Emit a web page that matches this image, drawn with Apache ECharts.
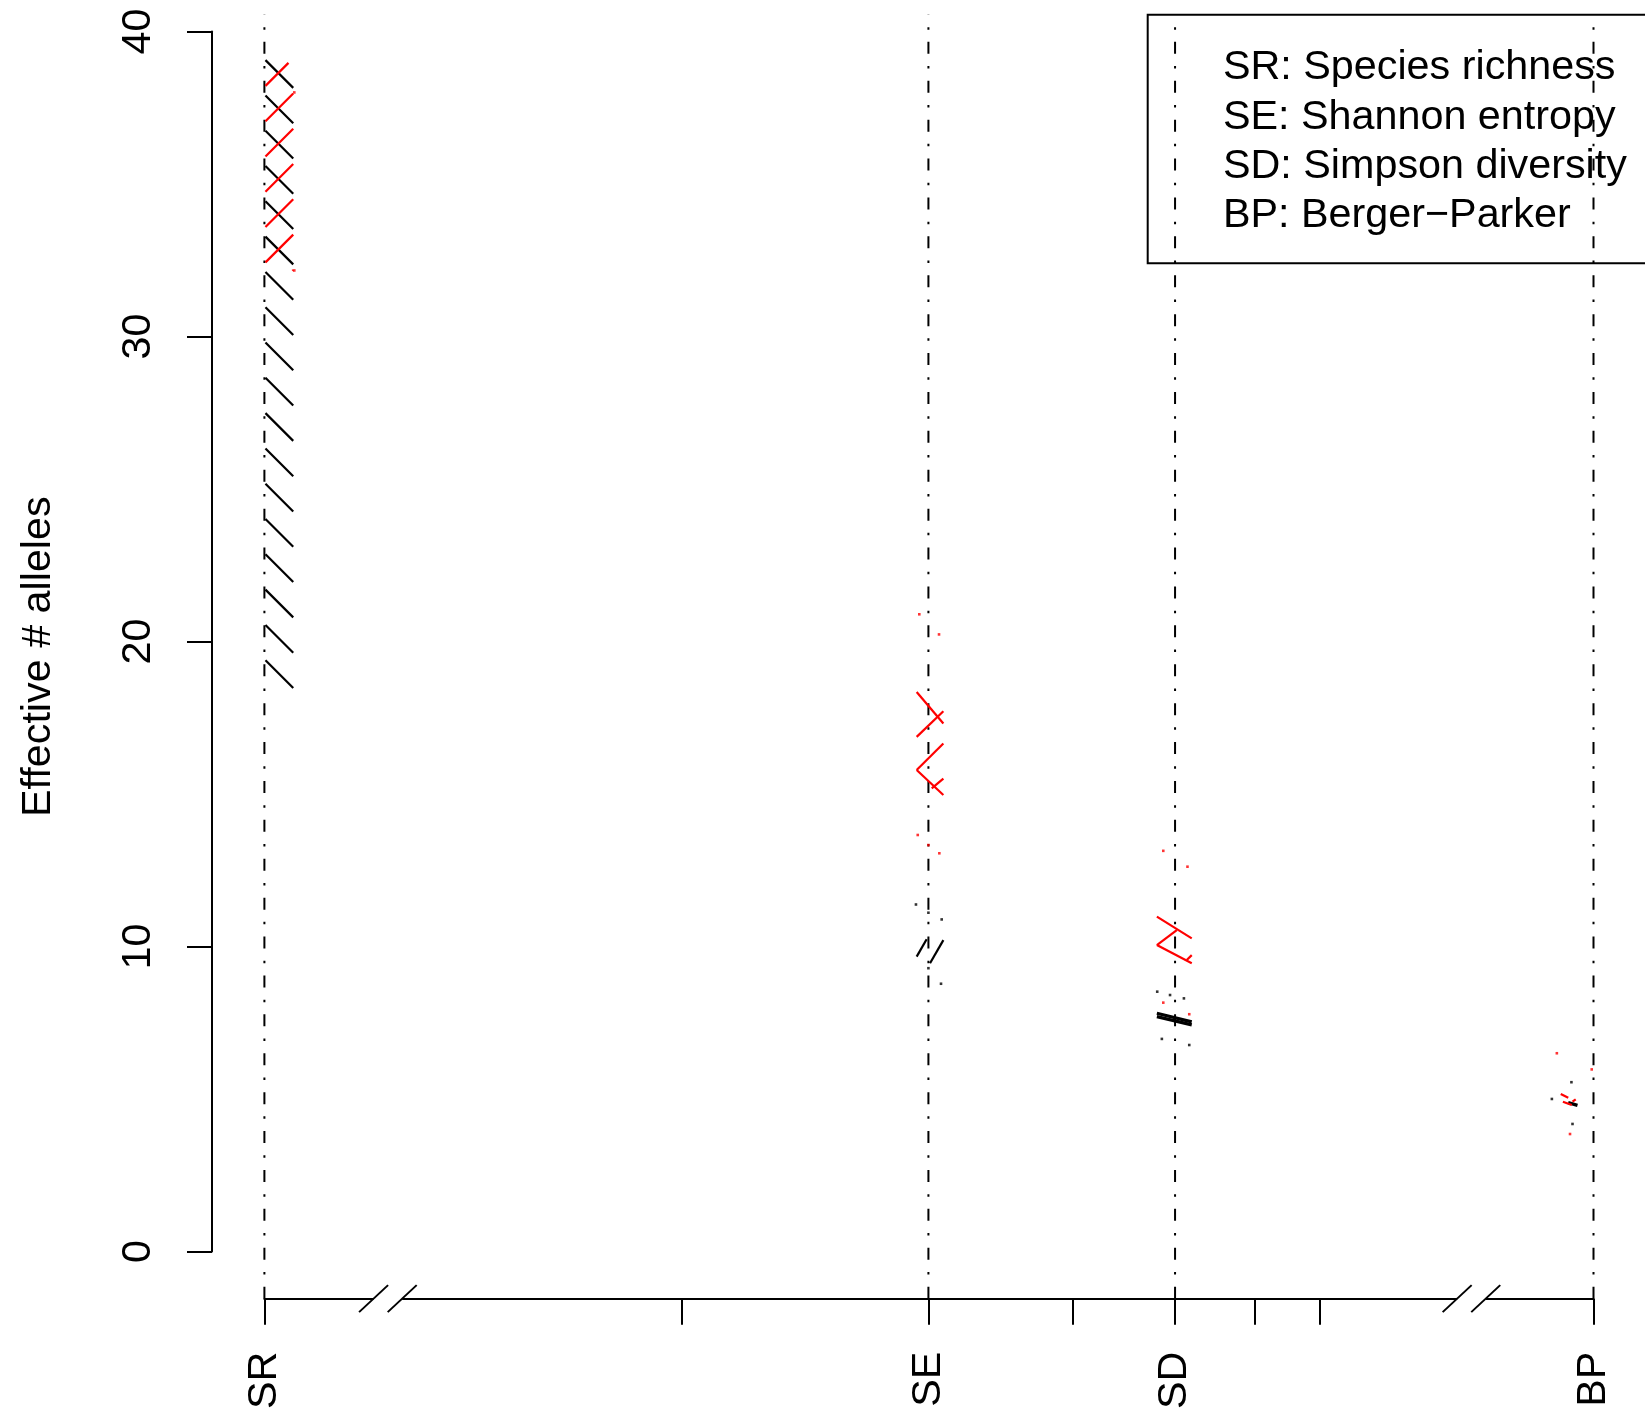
<!DOCTYPE html>
<html><head><meta charset="utf-8">
<script src="https://cdn.jsdelivr.net/npm/echarts@6/dist/echarts.min.js"></script>
<style>html,body{margin:0;padding:0;background:#fff}#c{width:1645px;height:1412px}</style>
</head><body><div id="c"></div>
<script>
// ---- data (x axis in ln(q) units; SR and BP sit beyond axis breaks) ----
const categories = ['SR', 'SE', 'SD', 'BP'];
const categoryPos = [-1.866, 0, 0.6931, 1.869];
const minorTickQ = [0.5, 1.5, 2.5, 3];
const breakPos = [-1.519, 1.526];
const yTickMin = 0, yTickMax = 40, yTickStep = 10;
const plotYMin = -1.55, plotYMax = 40.57;
const legendLines = ['SR: Species richness', 'SE: Shannon entropy', 'SD: Simpson diversity', 'BP: Berger\u2212Parker'];

// hatched regions [xLeft, xRight, yLow, yHigh]
const hatchBlack = [[-1.863, -1.785, 18.48, 39.08]];
const hatchRed = [[-1.863, -1.785, 32.17, 38.99]];

// short hatch segments [x1, y1, x2, y2]
const segBlack = [
  [-0.033, 9.67, -0.005, 10.24], [0.0045, 9.45, 0.042, 10.21]
];
const segBlackBold = [
  [0.642, 7.81, 0.740, 7.53], [0.642, 7.70, 0.740, 7.43],
  [1.798, 4.88, 1.824, 4.79]
];
const segRed = [
  [-0.033, 18.35, 0.042, 17.32], [-0.033, 16.88, 0.042, 17.72],
  [-0.033, 15.79, 0.042, 16.66], [-0.033, 15.79, 0.042, 14.97],
  [0.0093, 15.19, 0.042, 15.51],
  [0.642, 10.98, 0.740, 10.27], [0.642, 10.05, 0.698, 10.54],
  [0.642, 10.05, 0.740, 9.45], [0.726, 9.56, 0.740, 9.72],
  [1.777, 5.16, 1.798, 5.04], [1.783, 4.91, 1.808, 4.80], [1.810, 4.91, 1.819, 4.99]
];

// individual points
const ptsRed = [
  [-1.782, 38.02], [-1.782, 32.18],
  [-0.0256, 20.9], [0.0298, 20.24], [-0.030, 13.66], [0.0, 13.33], [0.0307, 13.06],
  [0.660, 13.14], [0.728, 12.62], [0.660, 8.16], [0.733, 7.78],
  [1.766, 6.50], [1.864, 5.97], [1.803, 3.85]
];
const ptsBlack = [
  [-0.035, 11.38], [0.0, 11.11], [0.0373, 10.89], [0.0354, 8.78], [0.0, 9.29],
  [0.643, 8.52], [0.679, 8.41], [0.718, 8.30], [0.656, 6.97], [0.733, 6.77],
  [1.807, 5.55], [1.752, 5.0], [1.810, 4.18]
];

// ---- styles ----
const FONT = 'Liberation Sans, Arial, Helvetica, sans-serif';
const FS = 41.3;
const HATCH_SPACING = 35.3;
const hatchStyle = { black: { color: '#000', dir: -1, phase: 0 }, red: { color: '#ff0000', dir: 1, phase: 23 } };

const lnMinor = minorTickQ.map(q => Math.log(q));
const tickVals = categoryPos.concat(lnMinor).sort((a, b) => a - b);

function hatchRender(style) {
  return function (params, api) {
    const x0 = api.value(0), x1 = api.value(1), y0 = api.value(2), y1 = api.value(3);
    const tl = api.coord([x0, y1]), br = api.coord([x1, y0]);
    const L = tl[0], R = br[0], T = tl[1], B = br[1], W = R - L;
    const children = [];
    for (let n = -40; n <= 80; n++) {
      const c = T + style.phase + n * HATCH_SPACING;
      let a, b;
      if (style.dir < 0) { a = Math.max(0, T - c); b = Math.min(W, B - c); }
      else { a = Math.max(0, c - B); b = Math.min(W, c - T); }
      if (b <= a) continue;
      const ya = style.dir < 0 ? c + a : c - a;
      const yb = style.dir < 0 ? c + b : c - b;
      children.push({ type: 'line', shape: { x1: L + a, y1: ya, x2: L + b, y2: yb },
        style: { stroke: style.color, lineWidth: 2.2 } });
    }
    return { type: 'group', children };
  };
}
function segRender(color, lw) {
  return function (params, api) {
    const p1 = api.coord([api.value(0), api.value(1)]);
    const p2 = api.coord([api.value(2), api.value(3)]);
    return { type: 'line', shape: { x1: p1[0], y1: p1[1], x2: p2[0], y2: p2[1] },
      style: { stroke: color, lineWidth: lw } };
  };
}
function vlineRender(params, api) {
  const p1 = api.coord([api.value(0), plotYMin]);
  const p2 = api.coord([api.value(0), plotYMax]);
  return { type: 'line', shape: { x1: p1[0], y1: p1[1], x2: p2[0], y2: p2[1] },
    style: { stroke: '#000', lineWidth: 2, lineDash: [12, 12.2, 2.5, 12.2] } };
}
function breakRender(params, api) {
  const p = api.coord([api.value(0), plotYMin]);
  const cx = p[0], cy = p[1], h = 13.5, hw = 14.5, sep = 14.3;
  return { type: 'group', children: [
    { type: 'rect', shape: { x: cx - sep, y: cy - 3, width: 2 * sep, height: 6 }, style: { fill: '#fff' } },
    { type: 'line', shape: { x1: cx - sep - hw, y1: cy + h, x2: cx - sep + hw, y2: cy - h }, style: { stroke: '#000', lineWidth: 2 } },
    { type: 'line', shape: { x1: cx + sep - hw, y1: cy + h, x2: cx + sep + hw, y2: cy - h }, style: { stroke: '#000', lineWidth: 2 } }
  ] };
}

const chart = echarts.init(document.getElementById('c'), null, { renderer: 'canvas' });
const option = {
  backgroundColor: '#fff',
  animation: false,
  grid: [
    { left: 264.4, right: 51.5, top: 14.7, bottom: 113.3 },
    { left: 212, width: 10, top: 31.5, bottom: 160.5 }
  ],
  xAxis: [
    { type: 'value', gridIndex: 0, min: categoryPos[0], max: categoryPos[3],
      splitLine: { show: false },
      axisLine: { show: true, onZero: false, lineStyle: { color: '#000', width: 2 } },
      axisTick: { show: true, customValues: tickVals, length: 26, lineStyle: { color: '#000', width: 2 } },
      axisLabel: { show: true, customValues: categoryPos, rotate: 90, margin: 53,
        fontFamily: FONT, fontSize: FS, color: '#000',
        formatter: function (v) {
          let best = 0;
          categoryPos.forEach((c, i) => { if (Math.abs(c - v) < Math.abs(categoryPos[best] - v)) best = i; });
          return categories[best];
        } } },
    { type: 'value', gridIndex: 1, show: false, min: 0, max: 1 }
  ],
  yAxis: [
    { type: 'value', gridIndex: 0, min: plotYMin, max: plotYMax,
      name: 'Effective # alleles', nameLocation: 'middle', nameRotate: 90, nameGap: 205,
      nameTextStyle: { fontFamily: FONT, fontSize: FS, color: '#000' },
      axisLine: { show: false }, axisTick: { show: false }, axisLabel: { show: false }, splitLine: { show: false } },
    { type: 'value', gridIndex: 1, min: yTickMin, max: yTickMax, interval: yTickStep,
      splitLine: { show: false },
      axisLine: { show: true, lineStyle: { color: '#000', width: 2 } },
      axisTick: { show: true, length: 25, lineStyle: { color: '#000', width: 2 } },
      axisLabel: { rotate: 90, margin: 53, fontFamily: FONT, fontSize: FS, color: '#000' } }
  ],
  series: [
    { type: 'custom', name: 'categoryLines', silent: true, clip: false,
      renderItem: vlineRender, data: categoryPos.map(v => [v]), z: 2 },
    { type: 'custom', name: 'axisBreaks', silent: true, clip: false,
      renderItem: breakRender, data: breakPos.map(v => [v]), z: 5 },
    { type: 'custom', name: 'hatchBlack', renderItem: hatchRender(hatchStyle.black), data: hatchBlack, silent: true, z: 3 },
    { type: 'custom', name: 'hatchRed', renderItem: hatchRender(hatchStyle.red), data: hatchRed, silent: true, z: 4 },
    { type: 'custom', name: 'segBlack', renderItem: segRender('#000', 2.2), data: segBlack, silent: true, z: 3 },
    { type: 'custom', name: 'segBlackBold', renderItem: segRender('#000', 3.2), data: segBlackBold, silent: true, z: 3 },
    { type: 'custom', name: 'segRed', renderItem: segRender('#ff0000', 2.2), data: segRed, silent: true, z: 4 },
    { type: 'scatter', name: 'ptsBlack', data: ptsBlack, symbol: 'rect', symbolSize: 2.6,
      itemStyle: { color: '#000' }, silent: true, z: 4 },
    { type: 'scatter', name: 'ptsRed', data: ptsRed, symbol: 'rect', symbolSize: 2.6,
      itemStyle: { color: '#ff0000' }, silent: true, z: 4 }
  ],
  graphic: [
    { type: 'rect', shape: { x: 1147.7, y: 14.7, width: 700, height: 248.6 },
      style: { fill: 'none', stroke: '#000', lineWidth: 2 }, z: 10 }
  ].concat(legendLines.map((t, i) => ({
    type: 'text', x: 1223, y: 68 + i * 49.3, z: 10,
    style: { text: t, fontFamily: FONT, fontSize: FS, fill: '#000', verticalAlign: 'middle', align: 'left' }
  })))
};
chart.setOption(option);
</script></body></html>
